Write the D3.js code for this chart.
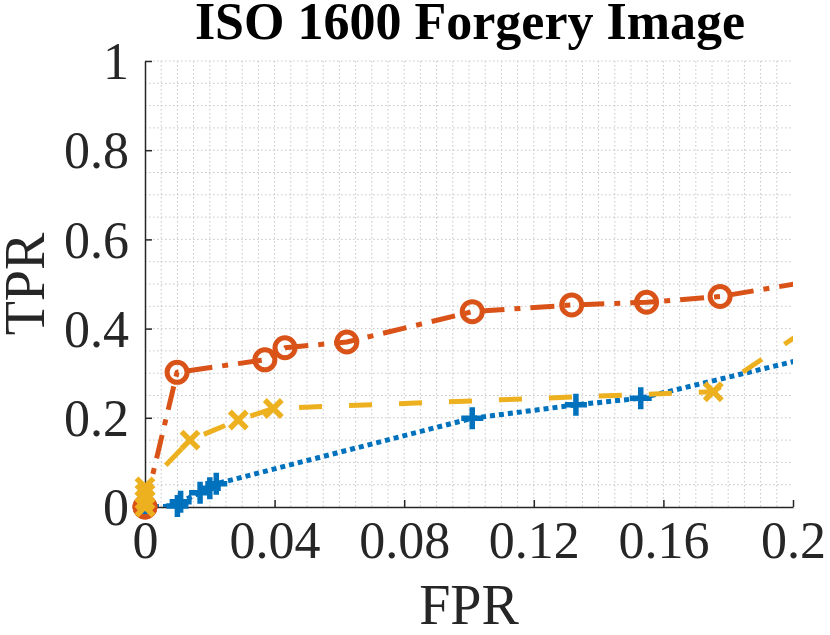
<!DOCTYPE html>
<html><head><meta charset="utf-8">
<script src="https://cdn.jsdelivr.net/npm/d3@7/dist/d3.min.js"></script>
<style>body{margin:0;background:#fff}svg{display:block}</style>
</head><body>
<svg id="c" width="830" height="635"></svg>
<script>
// ---- data ----
const title = "ISO 1600 Forgery Image";
const xLabel = "FPR", yLabel = "TPR";
const xTicks = [0, 0.04, 0.08, 0.12, 0.16, 0.2];
const xTickLabels = ["0", "0.04", "0.08", "0.12", "0.16", "0.2"];
const yTicks = [0, 0.2, 0.4, 0.6, 0.8, 1];
const yTickLabels = ["0", "0.2", "0.4", "0.6", "0.8", "1"];

const blueFPR = [0, 0.010, 0.011, 0.017, 0.020, 0.022, 0.101, 0.133, 0.153, 0.25];
const blueTPR = [0, 0.002, 0.012, 0.032, 0.042, 0.052, 0.199, 0.229, 0.244, 0.413];
const redFPR  = [0, 0, 0.0099, 0.037, 0.0432, 0.0623, 0.101, 0.1317, 0.1548, 0.1775, 0.25];
const redTPR  = [0, 0, 0.302, 0.330, 0.357, 0.370, 0.438, 0.453, 0.459, 0.472, 0.56];
const yelFPR  = [0, 0, 0, 0, 0.0139, 0.0288, 0.0396, 0.1754, 0.22];
const yelTPR  = [0, 0.015, 0.03, 0.045, 0.150, 0.195, 0.221, 0.2585, 0.475];

// ---- layout ----
const svg = d3.select("#c");
const L = 145, R = 793, T = 61, B = 507;
const x = d3.scaleLinear().domain([0, 0.2]).range([L, R]);
const y = d3.scaleLinear().domain([0, 1]).range([B, T]);
const ink = "#262626";
const font = "'Liberation Serif','Times New Roman',serif";

svg.append("defs").append("clipPath").attr("id", "clip")
  .append("rect").attr("x", L).attr("y", T).attr("width", R - L).attr("height", B - T);

// grid (minor, dotted)
const g = svg.append("g");
d3.range(1, 40).forEach(i => {
  const v = i * 0.005;
  g.append("line").attr("x1", x(v)).attr("x2", x(v)).attr("y1", T).attr("y2", B)
    .attr("stroke", "#c6c6c6").attr("stroke-width", 1).attr("stroke-dasharray", "1.5,2.5");
});
d3.range(1, 21).forEach(i => {
  const v = i * 0.05;
  g.append("line").attr("x1", L).attr("x2", R).attr("y1", y(v)).attr("y2", y(v))
    .attr("stroke", "#c6c6c6").attr("stroke-width", 1).attr("stroke-dasharray", "1.5,2.5");
});

// axes
const xAxis = d3.axisBottom(x).tickValues(xTicks).tickSizeInner(-7).tickSizeOuter(0)
  .tickFormat((d, i) => xTickLabels[i]).tickPadding(14);
const yAxis = d3.axisLeft(y).tickValues(yTicks).tickSizeInner(-7).tickSizeOuter(0)
  .tickFormat((d, i) => yTickLabels[i]).tickPadding(16);

const gx = svg.append("g").attr("transform", `translate(0,${B})`).call(xAxis);
const gy = svg.append("g").attr("transform", `translate(${L},0)`).call(yAxis);
[gx, gy].forEach(a => {
  a.select(".domain").attr("stroke", ink).attr("stroke-width", 1.5);
  a.selectAll(".tick line").attr("stroke", ink).attr("stroke-width", 1.5);
  a.selectAll(".tick text").attr("fill", ink).attr("font-family", font).attr("font-size", 52);
});
gx.selectAll(".tick text").attr("dy", "0.71em");
gy.selectAll(".tick text").attr("dy", "0.34em");

// series
function series(fx, fy, color, dash, marker) {
  const pts = fx.map((v, i) => [v, fy[i]]);
  const line = d3.line().x(d => x(d[0])).y(d => y(d[1]));
  svg.append("path").datum(pts).attr("d", line).attr("clip-path", "url(#clip)")
    .attr("fill", "none").attr("stroke", color).attr("stroke-width", 5)
    .attr("stroke-dasharray", dash).attr("stroke-linecap", "butt").attr("stroke-linejoin", "round");
  const vis = pts.filter(d => d[0] <= 0.2 && d[1] <= 1);
  const m = svg.append("g");
  vis.forEach(d => {
    const cx = x(d[0]), cy = y(d[1]);
    if (marker === "o") {
      m.append("circle").attr("cx", cx).attr("cy", cy).attr("r", 10)
        .attr("fill", "none").attr("stroke", color).attr("stroke-width", 5);
    } else if (marker === "+") {
      const s = 11;
      m.append("path").attr("d", `M${cx - s},${cy}H${cx + s}M${cx},${cy - s}V${cy + s}`)
        .attr("stroke", color).attr("stroke-width", 5.5).attr("fill", "none");
    } else {
      const s = 8.5;
      m.append("path").attr("d", `M${cx - s},${cy - s}L${cx + s},${cy + s}M${cx - s},${cy + s}L${cx + s},${cy - s}`)
        .attr("stroke", color).attr("stroke-width", 5.5).attr("fill", "none");
    }
  });
}
series(blueFPR, blueTPR, "#0072BD", "5,4", "+");
series(redFPR, redTPR, "#D95319", "24,10,6,10", "o");
series(yelFPR, yelTPR, "#EDB120", "23,27", "x");

// labels
svg.append("text").attr("x", (L + R) / 2).attr("y", 624).attr("text-anchor", "middle")
  .attr("font-family", font).attr("font-size", 56).attr("fill", ink).text(xLabel);
svg.append("text").attr("transform", `translate(44,${(T + B) / 2}) rotate(-90)`)
  .attr("text-anchor", "middle").attr("font-family", font).attr("font-size", 56)
  .attr("fill", ink).text(yLabel);
svg.append("text").attr("x", 470).attr("y", 39).attr("text-anchor", "middle")
  .attr("font-family", font).attr("font-weight", "bold").attr("font-size", 52)
  .attr("fill", "#000").text(title);
</script>
</body></html>
